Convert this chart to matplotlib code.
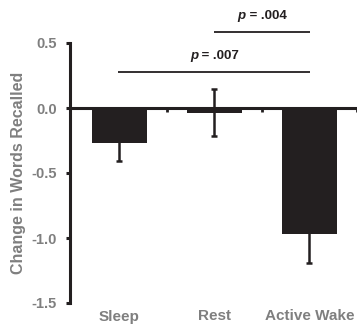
import matplotlib
matplotlib.use("Agg")
import matplotlib.pyplot as plt
import numpy as np

categories = ["Sleep", "Rest", "Active Wake"]
means = [-0.27, -0.035, -0.97]
errors = [0.14, 0.18, 0.22]
yticks = [0.5, 0.0, -0.5, -1.0, -1.5]
ytick_labels = ["0.5", "0.0", "-0.5", "-1.0", "-1.5"]
comparisons = [(0, 2, 0.277, ".007"), (1, 2, 0.585, ".004")]

plt.rcParams['font.family'] = ['Liberation Sans', 'DejaVu Sans']
dark = "#231f20"
gray = "#7f7f7f"

fig = plt.figure(figsize=(3.57, 3.28), dpi=100)
ax = fig.add_axes([70/357, 1-303/328, 1-70/357, 260/328])
x = np.arange(len(categories))
ax.bar(x, means, width=0.575, color=dark, zorder=3)
ax.errorbar(x, means, yerr=errors, fmt='none', ecolor=dark, elinewidth=1.8,
            capsize=2.5, capthick=1.8, zorder=2)
ax.set_xlim(-0.52, 2.5)
ax.set_ylim(-1.5, 0.5)
ax.set_yticks(yticks)
ax.set_yticklabels(ytick_labels, fontsize=10.5, fontweight='bold', color=gray)
ax.spines['top'].set_visible(False)
ax.spines['right'].set_visible(False)
ax.spines['left'].set_linewidth(2.2)
ax.spines['left'].set_color(dark)
ax.spines['bottom'].set_position(('data', 0))
ax.spines['bottom'].set_linewidth(2.2)
ax.spines['bottom'].set_color(dark)
ax.spines['bottom'].set_zorder(4)
ax.tick_params(axis='y', length=3, width=2.2, color=dark, pad=6.5)
ax.set_xticks([0.5, 1.5, 2.5])
ax.set_xticklabels([])
ax.tick_params(axis='x', length=3, width=2, color=dark, direction='out')
for i, c in enumerate(categories):
    ax.text(i, -0.025, c, transform=ax.get_xaxis_transform(), ha='center', va='top',
            fontsize=11, fontweight='bold', color=gray)
ax.set_ylabel("Change in Words Recalled", fontsize=11.5, fontweight='bold', color=gray, labelpad=4)

renderer = fig.canvas.get_renderer()
for a, b, yv, label in comparisons:
    ax.plot([a - 0.01, b + 0.01], [yv, yv], color=dark, lw=1.3, clip_on=False, solid_capstyle='butt')
    cx = (a + b) / 2
    t1 = ax.text(cx, yv + 0.08, "p", ha='left', va='bottom', fontsize=9.5,
                 fontweight='bold', fontstyle='italic', color=dark, clip_on=False)
    t2 = ax.text(cx, yv + 0.08, " = " + label, ha='left', va='bottom', fontsize=9.5,
                 fontweight='bold', color=dark, clip_on=False)
    w1 = t1.get_window_extent(renderer).width
    w2 = t2.get_window_extent(renderer).width
    inv = ax.transData.inverted()
    x0_pix = ax.transData.transform((cx, 0))[0] - (w1 + w2) / 2
    t1.set_x(inv.transform((x0_pix, 0))[0])
    t2.set_x(inv.transform((x0_pix + w1, 0))[0])

fig.savefig("out.png", dpi=100)
